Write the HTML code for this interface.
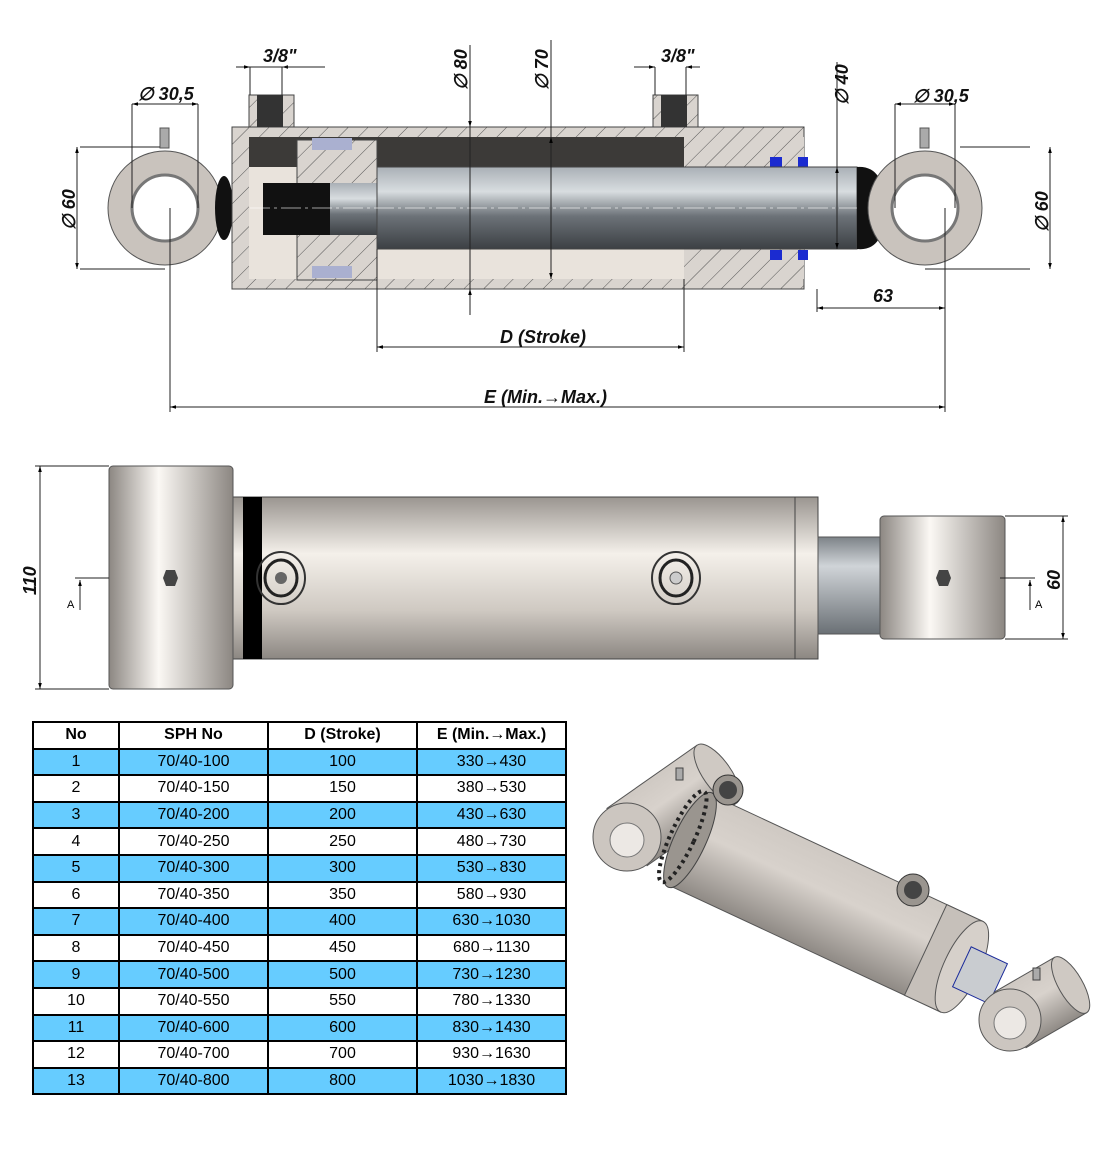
<!DOCTYPE html>
<html><head><meta charset="utf-8"><style>
body{margin:0;background:#fff;width:1100px;height:1159px;overflow:hidden;font-family:"Liberation Sans",sans-serif}
svg{position:absolute;left:0;top:0}
table{position:absolute;left:32px;top:721px;border-collapse:collapse;font-family:"Liberation Sans",sans-serif;font-size:16px}
td{border:2px solid #000;text-align:center;height:24.6px;padding:0}
tr.b td{background:#66ccff}
.d{font-style:italic;font-weight:bold;font-size:18px;fill:#111}
</style></head><body>
<svg width="1100" height="1159" viewBox="0 0 1100 1159">
<defs>
<linearGradient id="rod" x1="0" y1="0" x2="0" y2="1"><stop offset="0" stop-color="#aab0b6"/><stop offset=".3" stop-color="#d8dde0"/><stop offset=".6" stop-color="#6c7278"/><stop offset="1" stop-color="#3c4044"/></linearGradient>
<linearGradient id="bar" x1="0" y1="0" x2="0" y2="1"><stop offset="0" stop-color="#9a9590"/><stop offset=".35" stop-color="#f4f0ea"/><stop offset=".7" stop-color="#cfc9c2"/><stop offset="1" stop-color="#8c8782"/></linearGradient>
<linearGradient id="eye" x1="0" y1="0" x2="1" y2="0"><stop offset="0" stop-color="#8c8782"/><stop offset=".4" stop-color="#fbf8f4"/><stop offset="1" stop-color="#8c8782"/></linearGradient>
<linearGradient id="rodv" x1="0" y1="0" x2="0" y2="1"><stop offset="0" stop-color="#7d8388"/><stop offset=".3" stop-color="#d0d4d8"/><stop offset="1" stop-color="#6a7075"/></linearGradient>
<pattern id="h" width="14" height="14" patternUnits="userSpaceOnUse" patternTransform="rotate(45)"><rect width="14" height="14" fill="#d9d4cf"/><line x1="0" y1="0" x2="0" y2="14" stroke="#555" stroke-width="1"/></pattern>
<marker id="a" viewBox="0 0 10 10" refX="10" refY="5" markerWidth="10" markerHeight="6" orient="auto-start-reverse"><path d="M0,2 L10,5 L0,8z" fill="#000"/></marker>
<linearGradient id="iso" x1="0" y1="0" x2="0" y2="1"><stop offset="0" stop-color="#cfc9c3"/><stop offset=".4" stop-color="#d8d2cc"/><stop offset="1" stop-color="#8f8a85"/></linearGradient>
</defs>

<!-- ===== TOP SECTION VIEW ===== -->
<circle cx="165" cy="208" r="57" fill="#c9c3bd" stroke="#555"/>
<circle cx="165" cy="208" r="33" fill="#fff" stroke="#777" stroke-width="3"/>
<rect x="160" y="128" width="9" height="20" fill="#aaa" stroke="#555"/>
<ellipse cx="224" cy="208" rx="9" ry="32" fill="#111"/>
<rect x="232" y="127" width="572" height="162" fill="url(#h)" stroke="#444"/>
<rect x="249" y="137" width="435" height="142" fill="#e9e3dc"/>
<rect x="249" y="137" width="435" height="30" fill="#3c3a38"/>
<rect x="297" y="140" width="80" height="140" fill="url(#h)" stroke="#444"/>
<rect x="312" y="138" width="40" height="12" fill="#aab0d0"/>
<rect x="312" y="266" width="40" height="12" fill="#aab0d0"/>
<rect x="263" y="183" width="70" height="52" fill="#111"/>
<rect x="684" y="137" width="120" height="142" fill="url(#h)"/>
<rect x="770" y="157" width="12" height="10" fill="#1b2bd0"/><rect x="798" y="157" width="10" height="10" fill="#1b2bd0"/>
<rect x="770" y="250" width="12" height="10" fill="#1b2bd0"/><rect x="798" y="250" width="10" height="10" fill="#1b2bd0"/>
<rect x="249" y="95" width="45" height="32" fill="url(#h)" stroke="#444"/><rect x="257" y="95" width="26" height="32" fill="#333"/>
<rect x="653" y="95" width="45" height="32" fill="url(#h)" stroke="#444"/><rect x="661" y="95" width="26" height="32" fill="#333"/>
<rect x="330" y="183" width="50" height="52" fill="url(#rod)"/>
<rect x="377" y="167" width="480" height="82" fill="url(#rod)" stroke="#444"/>
<line x1="250" y1="208" x2="880" y2="208" stroke="#fff" stroke-dasharray="20 4 3 4" opacity=".6"/>
<path d="M857,167 Q885,165 885,208 Q885,252 857,249z" fill="#111"/>
<circle cx="925" cy="208" r="57" fill="#c9c3bd" stroke="#555"/>
<circle cx="925" cy="208" r="33" fill="#fff" stroke="#777" stroke-width="3"/>
<rect x="920" y="128" width="9" height="20" fill="#aaa" stroke="#555"/>
<g stroke="#222" stroke-width="1" fill="none">
<line x1="80" y1="147" x2="160" y2="147"/><line x1="80" y1="269" x2="165" y2="269"/>
<line x1="77" y1="147" x2="77" y2="269" marker-start="url(#a)" marker-end="url(#a)"/>
<line x1="1030" y1="147" x2="960" y2="147"/><line x1="1030" y1="269" x2="925" y2="269"/>
<line x1="1050" y1="147" x2="1050" y2="269" marker-start="url(#a)" marker-end="url(#a)"/>
<line x1="132" y1="104" x2="132" y2="208"/><line x1="198" y1="104" x2="198" y2="208"/>
<line x1="132" y1="104" x2="198" y2="104" marker-start="url(#a)" marker-end="url(#a)"/>
<line x1="895" y1="104" x2="895" y2="208"/><line x1="955" y1="104" x2="955" y2="208"/>
<line x1="895" y1="104" x2="955" y2="104" marker-start="url(#a)" marker-end="url(#a)"/>
<line x1="250" y1="67" x2="250" y2="95"/><line x1="282" y1="67" x2="282" y2="95"/>
<line x1="236" y1="67" x2="250" y2="67" marker-end="url(#a)"/><line x1="296" y1="67" x2="282" y2="67" marker-end="url(#a)"/><line x1="250" y1="67" x2="325" y2="67"/>
<line x1="655" y1="67" x2="655" y2="95"/><line x1="686" y1="67" x2="686" y2="95"/>
<line x1="634" y1="67" x2="655" y2="67" marker-end="url(#a)"/><line x1="700" y1="67" x2="686" y2="67" marker-end="url(#a)"/>
<line x1="470" y1="45" x2="470" y2="315"/><line x1="470" y1="100" x2="470" y2="127" marker-end="url(#a)"/><line x1="470" y1="315" x2="470" y2="289" marker-end="url(#a)"/>
<line x1="551" y1="40" x2="551" y2="279" marker-end="url(#a)"/><line x1="551" y1="160" x2="551" y2="137" marker-end="url(#a)"/>
<line x1="837" y1="62" x2="837" y2="249" marker-end="url(#a)"/><line x1="837" y1="200" x2="837" y2="167" marker-end="url(#a)"/>
<line x1="377" y1="249" x2="377" y2="352"/><line x1="684" y1="279" x2="684" y2="352"/>
<line x1="377" y1="347" x2="684" y2="347" marker-start="url(#a)" marker-end="url(#a)"/>
<line x1="817" y1="289" x2="817" y2="312"/><line x1="945" y1="208" x2="945" y2="412"/><line x1="170" y1="208" x2="170" y2="412"/>
<line x1="817" y1="308" x2="945" y2="308" marker-start="url(#a)" marker-end="url(#a)"/>
<line x1="170" y1="407" x2="945" y2="407" marker-start="url(#a)" marker-end="url(#a)"/>
</g>
<text class="d" x="138" y="100">∅ 30,5</text>
<text class="d" x="913" y="102">∅ 30,5</text>
<text class="d" x="263" y="62">3/8"</text>
<text class="d" x="661" y="62">3/8"</text>
<text class="d" x="873" y="302">63</text>
<text class="d" x="500" y="343">D (Stroke)</text>
<text class="d" x="484" y="403">E (Min.→Max.)</text>
<text class="d" transform="translate(75,230) rotate(-90)">∅ 60</text>
<text class="d" transform="translate(1048,232) rotate(-90)">∅ 60</text>
<text class="d" transform="translate(467,90) rotate(-90)">∅ 80</text>
<text class="d" transform="translate(548,90) rotate(-90)">∅ 70</text>
<text class="d" transform="translate(848,105) rotate(-90)">∅ 40</text>

<!-- ===== MIDDLE VIEW ===== -->
<rect x="233" y="497" width="585" height="162" fill="url(#bar)" stroke="#444"/>
<rect x="243" y="497" width="19" height="162" fill="#000"/>
<line x1="795" y1="497" x2="795" y2="659" stroke="#444"/>
<rect x="818" y="537" width="62" height="97" fill="url(#rodv)" stroke="#555"/>
<rect x="109" y="466" width="124" height="223" rx="4" fill="url(#eye)" stroke="#555"/>
<rect x="880" y="516" width="125" height="123" rx="4" fill="url(#eye)" stroke="#555"/>
<ellipse cx="281" cy="578" rx="24" ry="26" fill="none" stroke="#333" stroke-width="2"/><ellipse cx="281" cy="578" rx="16" ry="18" fill="none" stroke="#222" stroke-width="3"/><circle cx="281" cy="578" r="6" fill="#666"/>
<ellipse cx="676" cy="578" rx="24" ry="26" fill="none" stroke="#333" stroke-width="2"/><ellipse cx="676" cy="578" rx="16" ry="18" fill="none" stroke="#222" stroke-width="3"/><circle cx="676" cy="578" r="6" fill="#ccc" stroke="#555"/>
<polygon points="166,570 175,570 178,578 175,586 166,586 163,578" fill="#444"/>
<polygon points="939,570 948,570 951,578 948,586 939,586 936,578" fill="#444"/>
<g stroke="#222" fill="none">
<line x1="35" y1="466" x2="109" y2="466"/><line x1="35" y1="689" x2="109" y2="689"/>
<line x1="40" y1="466" x2="40" y2="689" marker-start="url(#a)" marker-end="url(#a)"/>
<line x1="1005" y1="516" x2="1068" y2="516"/><line x1="1005" y1="639" x2="1068" y2="639"/>
<line x1="1063" y1="516" x2="1063" y2="639" marker-start="url(#a)" marker-end="url(#a)"/>
<line x1="75" y1="578" x2="109" y2="578"/><line x1="80" y1="610" x2="80" y2="580" marker-end="url(#a)"/>
<line x1="1000" y1="578" x2="1035" y2="578"/><line x1="1030" y1="610" x2="1030" y2="580" marker-end="url(#a)"/>
</g>
<text x="67" y="608" font-size="11">A</text><text x="1035" y="608" font-size="11">A</text>
<text class="d" transform="translate(36,595) rotate(-90)">110</text>
<text class="d" transform="translate(1060,590) rotate(-90)">60</text>

<!-- ===== ISO VIEW ===== -->
<!-- left eye body (behind) -->
<g transform="translate(627,837) rotate(-35)">
<rect x="0" y="-35" width="110" height="70" fill="url(#iso)" stroke="#555"/>
<ellipse cx="110" cy="0" rx="14" ry="35" fill="#cfc9c3" stroke="#555"/>
</g>
<rect x="676" y="768" width="7" height="12" fill="#aaa" stroke="#444"/>
<g transform="translate(690,840) rotate(25)">
<rect x="0" y="-50" width="300" height="100" fill="url(#iso)" stroke="#555"/>
<ellipse cx="0" cy="0" rx="16" ry="52" fill="#9a958f" stroke="#444"/>
<ellipse cx="-8" cy="0" rx="12" ry="50" fill="none" stroke="#222" stroke-width="4" stroke-dasharray="3 4"/>
<rect x="260" y="-50" width="40" height="100" fill="#c6c0ba" stroke="#555"/>
<ellipse cx="300" cy="0" rx="18" ry="50" fill="#d6d0ca" stroke="#555"/>
<rect x="300" y="-22" width="40" height="44" fill="#c9ccd0" stroke="#1a2a9a"/>
</g>
<circle cx="627" cy="837" r="34" fill="#ccc6c0" stroke="#555"/>
<circle cx="627" cy="840" r="17" fill="#ece8e4" stroke="#777"/>
<circle cx="728" cy="790" r="15" fill="#9a958f" stroke="#333"/><circle cx="728" cy="790" r="9" fill="#444"/>
<circle cx="913" cy="890" r="16" fill="#9a958f" stroke="#333"/><circle cx="913" cy="890" r="9" fill="#444"/>
<g transform="translate(1010,1020) rotate(-30)">
<rect x="0" y="-32" width="70" height="64" fill="url(#iso)" stroke="#555"/>
<ellipse cx="70" cy="0" rx="12" ry="32" fill="#cfc9c3" stroke="#555"/>
</g>
<circle cx="1010" cy="1020" r="31" fill="#ccc6c0" stroke="#555"/>
<circle cx="1010" cy="1023" r="16" fill="#ece8e4" stroke="#777"/>
<rect x="1033" y="968" width="7" height="12" fill="#aaa" stroke="#444"/>
</svg>

<table>
<tr><td style="width:84px;font-weight:bold">No</td><td style="width:147px;font-weight:bold">SPH No</td><td style="width:147px;font-weight:bold">D (Stroke)</td><td style="width:147px;font-weight:bold">E (Min.→Max.)</td></tr>
<tr class="b"><td>1</td><td>70/40-100</td><td>100</td><td>330→430</td></tr>
<tr><td>2</td><td>70/40-150</td><td>150</td><td>380→530</td></tr>
<tr class="b"><td>3</td><td>70/40-200</td><td>200</td><td>430→630</td></tr>
<tr><td>4</td><td>70/40-250</td><td>250</td><td>480→730</td></tr>
<tr class="b"><td>5</td><td>70/40-300</td><td>300</td><td>530→830</td></tr>
<tr><td>6</td><td>70/40-350</td><td>350</td><td>580→930</td></tr>
<tr class="b"><td>7</td><td>70/40-400</td><td>400</td><td>630→1030</td></tr>
<tr><td>8</td><td>70/40-450</td><td>450</td><td>680→1130</td></tr>
<tr class="b"><td>9</td><td>70/40-500</td><td>500</td><td>730→1230</td></tr>
<tr><td>10</td><td>70/40-550</td><td>550</td><td>780→1330</td></tr>
<tr class="b"><td>11</td><td>70/40-600</td><td>600</td><td>830→1430</td></tr>
<tr><td>12</td><td>70/40-700</td><td>700</td><td>930→1630</td></tr>
<tr class="b"><td>13</td><td>70/40-800</td><td>800</td><td>1030→1830</td></tr>
</table>
</body></html>
